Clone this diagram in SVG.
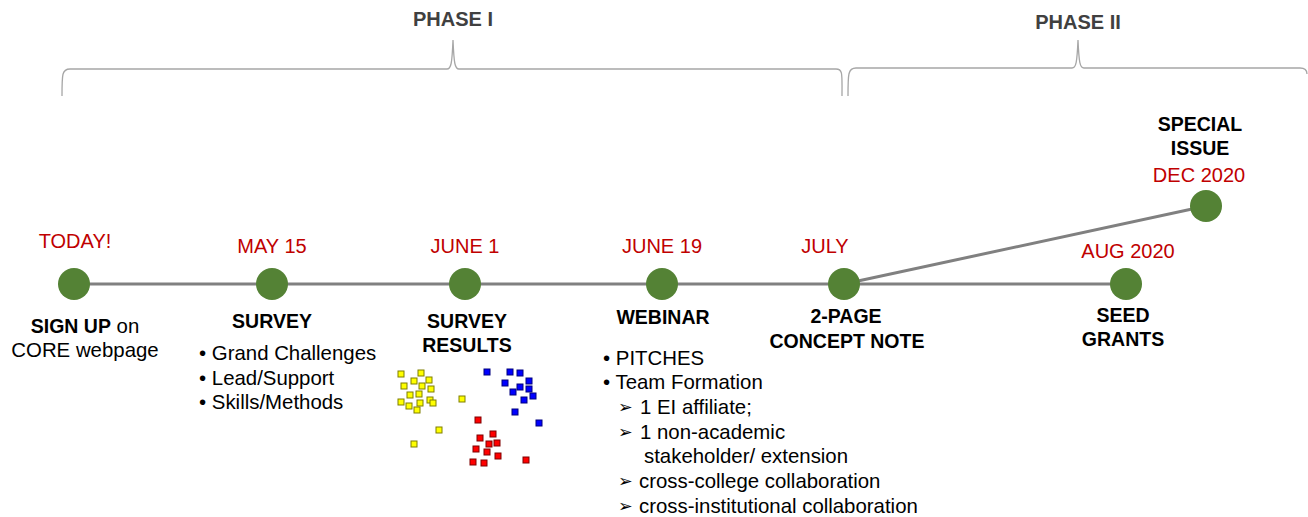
<svg xmlns="http://www.w3.org/2000/svg" width="1308" height="517" viewBox="0 0 1308 517">
<style>
text{font-family:"Liberation Sans",Arial,sans-serif;font-size:20.4px;fill:#000}
.date{fill:#C00000;text-anchor:middle;font-size:20px}
.b{font-weight:bold;font-size:19.5px}
.c{text-anchor:middle}
.ph{font-weight:bold;fill:#404040;font-size:20px;text-anchor:middle}
.ar{font-family:"DejaVu Sans",sans-serif;font-size:17.5px}
.brace{fill:none;stroke:#A6A6A6;stroke-width:1.3}
.dot{fill:#548235}
.ln{stroke:#808080;stroke-width:3;fill:none}
.y{fill:#FFFF00;stroke:#7F7F00;stroke-width:1}
.bl{fill:#0000FF;stroke:#00007F;stroke-width:1}
.r{fill:#FF0000;stroke:#7F0000;stroke-width:1}
</style>
<g id="phases">
<path class="brace" d="M62,96 C62,74 62,69 70,69 L447,69 C451,69 452,64 453,40 C454,64 455,69 459,69 L836,69 C843,69 842,74 842,96"/>
<text class="ph" x="453" y="26">PHASE I</text>
<path class="brace" d="M848,96 C848,74 848,68 856,68 L1072,68 C1076,68 1077,63 1078,40 C1079,63 1080,68 1084,68 L1300,68 C1307,68 1307,72 1307,74"/>
<text class="ph" x="1078" y="29">PHASE II</text>
</g>
<g id="connectors">
<line class="ln" x1="74" y1="284" x2="1126" y2="284"/>
<line class="ln" x1="844" y1="284" x2="1206" y2="206"/>
</g>
<g id="today">
<circle class="dot" cx="74" cy="284" r="16"/>
<text class="date" x="75" y="248">TODAY!</text>
<text class="c" x="85" y="333"><tspan class="b">SIGN UP</tspan> on</text>
<text class="c" x="85" y="357">CORE webpage</text>
</g>
<g id="may15">
<circle class="dot" cx="272" cy="284" r="16"/>
<text class="date" x="272" y="253">MAY 15</text>
<text class="c b" x="272" y="328">SURVEY</text>
<text x="199" y="360">• Grand Challenges</text>
<text x="199" y="385">• Lead/Support</text>
<text x="199" y="409">• Skills/Methods</text>
</g>
<g id="june1">
<circle class="dot" cx="465" cy="284" r="16"/>
<text class="date" x="465" y="253">JUNE 1</text>
<text class="c b" x="467" y="328">SURVEY</text>
<text class="c b" x="467" y="352">RESULTS</text>
<g class="sq">
<rect class="y" x="398" y="371" width="6" height="6"/><rect class="y" x="418" y="370" width="6" height="6"/><rect class="y" x="401" y="383" width="6" height="6"/><rect class="y" x="411" y="378" width="6" height="6"/><rect class="y" x="419" y="383" width="6" height="6"/><rect class="y" x="426" y="377" width="6" height="6"/><rect class="y" x="428" y="386" width="6" height="6"/><rect class="y" x="407" y="392" width="6" height="6"/><rect class="y" x="416" y="391" width="6" height="6"/><rect class="y" x="398" y="399" width="6" height="6"/><rect class="y" x="406" y="403" width="6" height="6"/><rect class="y" x="417" y="400" width="6" height="6"/><rect class="y" x="427" y="397" width="6" height="6"/><rect class="y" x="430" y="400" width="6" height="6"/><rect class="y" x="414" y="407" width="6" height="6"/><rect class="y" x="459" y="396" width="6" height="6"/><rect class="y" x="436" y="427" width="6" height="6"/><rect class="y" x="411" y="441" width="6" height="6"/>
<rect class="bl" x="484" y="369" width="6" height="6"/><rect class="bl" x="507" y="369" width="6" height="6"/><rect class="bl" x="517" y="370" width="6" height="6"/><rect class="bl" x="526" y="378" width="6" height="6"/><rect class="bl" x="502" y="380" width="6" height="6"/><rect class="bl" x="517" y="384" width="6" height="6"/><rect class="bl" x="526" y="386" width="6" height="6"/><rect class="bl" x="510" y="389" width="6" height="6"/><rect class="bl" x="530" y="393" width="6" height="6"/><rect class="bl" x="521" y="397" width="6" height="6"/><rect class="bl" x="512" y="409" width="6" height="6"/><rect class="bl" x="536" y="420" width="6" height="6"/>
<rect class="r" x="475" y="417" width="6" height="6"/><rect class="r" x="490" y="431" width="6" height="6"/><rect class="r" x="477" y="435" width="6" height="6"/><rect class="r" x="486" y="441" width="6" height="6"/><rect class="r" x="494" y="440" width="6" height="6"/><rect class="r" x="473" y="446" width="6" height="6"/><rect class="r" x="484" y="449" width="6" height="6"/><rect class="r" x="495" y="453" width="6" height="6"/><rect class="r" x="470" y="459" width="6" height="6"/><rect class="r" x="481" y="460" width="6" height="6"/><rect class="r" x="523" y="457" width="6" height="6"/>
</g>
</g>
<g id="june19">
<circle class="dot" cx="662" cy="284" r="16"/>
<text class="date" x="662" y="253">JUNE 19</text>
<text class="c b" x="663" y="324">WEBINAR</text>
<text x="603" y="365">• PITCHES</text>
<text x="603" y="389">• Team Formation</text>
<text class="ar" x="618" y="413">➢</text><text x="640" y="414">1 EI affiliate;</text>
<text class="ar" x="618" y="438">➢</text><text x="640" y="439">1 non-academic</text>
<text x="644" y="463">stakeholder/ extension</text>
<text class="ar" x="618" y="487">➢</text><text x="639" y="488">cross-college collaboration</text>
<text class="ar" x="618" y="512">➢</text><text x="639" y="513">cross-institutional collaboration</text>
</g>
<g id="july">
<circle class="dot" cx="844" cy="284" r="16"/>
<text class="date" x="825" y="253">JULY</text>
<text class="c b" x="846" y="323">2-PAGE</text>
<text class="c b" x="847" y="348">CONCEPT NOTE</text>
</g>
<g id="aug2020">
<circle class="dot" cx="1126" cy="284" r="16"/>
<text class="date" x="1128" y="258">AUG 2020</text>
<text class="c b" x="1123" y="322">SEED</text>
<text class="c b" x="1123" y="346">GRANTS</text>
</g>
<g id="dec2020">
<circle class="dot" cx="1206" cy="206" r="16"/>
<text class="date" x="1199" y="182">DEC 2020</text>
<text class="c b" x="1200" y="131">SPECIAL</text>
<text class="c b" x="1200" y="155">ISSUE</text>
</g>
</svg>
